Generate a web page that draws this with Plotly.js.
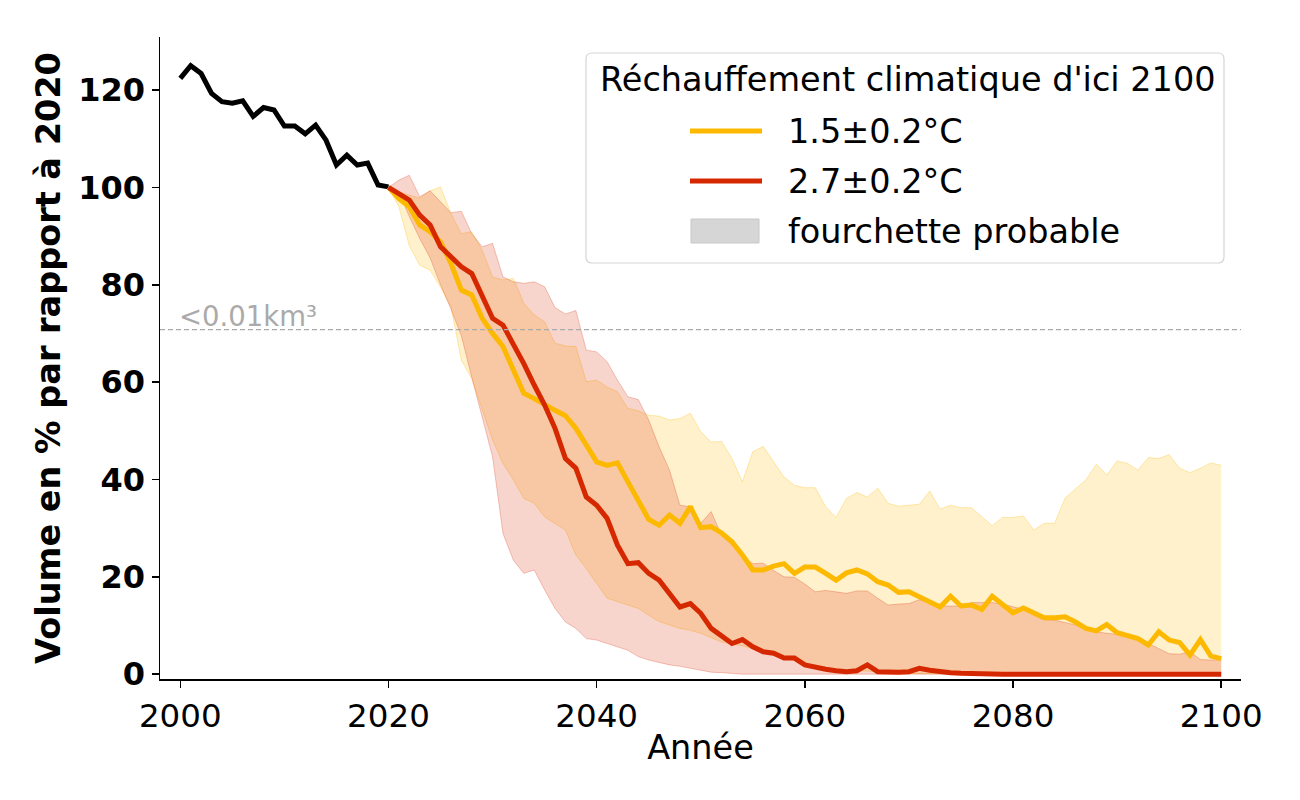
<!DOCTYPE html>
<html>
<head>
<meta charset="utf-8">
<script src="https://cdn.plot.ly/plotly-3.0.1.min.js"></script>
<style>html,body{margin:0;padding:0;background:#fff;}#chart{width:1300px;height:800px;}</style>
</head>
<body>
<div id="chart"></div>
<script>
// ---------- DATA ----------
const histYears = [2000,2001,2002,2003,2004,2005,2006,2007,2008,2009,2010,2011,2012,2013,2014,2015,2016,2017,2018,2019,2020];
const histVol = [122.4,125.0,123.4,119.3,117.6,117.3,117.8,114.6,116.4,115.9,112.6,112.6,111.0,112.8,109.7,104.6,106.6,104.6,105.0,100.5,100.1];

const projYears = [2020,2021,2022,2023,2024,2025,2026,2027,2028,2029,
  2030,2031,2032,2033,2034,2035,2036,2037,2038,2039,
  2040,2041,2042,2043,2044,2045,2046,2047,2048,2049,
  2050,2051,2052,2053,2054,2055,2056,2057,2058,2059,
  2060,2061,2062,2063,2064,2065,2066,2067,2068,2069,
  2070,2071,2072,2073,2074,2075,2076,2077,2078,2079,
  2080,2081,2082,2083,2084,2085,2086,2087,2088,2089,
  2090,2091,2092,2093,2094,2095,2096,2097,2098,2099,2100];

// 1.5±0.2°C
const yellowMed = [100,97.7,96.0,92.3,90.9,88.8,84.4,78.9,77.9,73.1,
  70.0,67.3,62.5,57.7,56.6,55.3,54.2,53.1,50.5,47.1,
  43.6,42.9,43.4,39.5,35.4,31.8,30.6,32.7,31.0,34.4,
  30.1,30.3,29.0,27.2,24.5,21.4,21.4,22.2,22.7,20.7,
  22.0,22.0,20.7,19.3,20.8,21.4,20.6,19.0,18.3,16.8,
  16.9,15.9,14.7,13.8,16.0,14.0,14.2,13.3,16.0,14.2,
  12.6,13.6,12.6,11.6,11.6,11.8,10.7,9.4,8.9,10.2,
  8.5,8.0,7.3,6.0,8.7,7.0,6.5,3.9,7.1,3.7,3.2];
const yellowLo = [100,96,88,84,83,79.5,75.5,64.5,60.7,54.2,
  48.1,43.3,39.9,36.1,35.1,32.3,31.0,29.6,24.5,21.7,
  18.6,15.6,14.9,14.2,13.5,12.1,10.8,10.1,9.4,9.0,
  8.4,7.5,6.6,6.2,5.8,5.2,4.5,4.0,3.2,2.8,
  2.0,1.5,1.2,1.0,0.8,0.7,0.6,0.4,0.3,0.3,
  0.2,0.1,0.1,0.1,0,0,0,0,0,0,
  0,0,0,0,0,0,0,0,0,0,
  0,0,0,0,0,0,0,0,0,0,0];
const yellowHi = [100,99.1,98.4,97.8,99.3,100.1,94.6,90.5,90.9,87.1,
  81.6,81.0,81.3,76.2,73.8,72.4,68.0,67.4,67.3,60.1,
  60.4,59.0,58.0,54.6,54.1,53.2,53.0,52.2,52.5,53.6,
  49.8,47.7,47.8,44.3,39.5,45.7,46.8,43.6,40.5,38.8,
  38.3,38.3,34.4,32.2,36.1,37.3,36.4,38.2,35.1,34.5,
  34.7,34.9,37.6,33.9,34.7,34.2,34.2,32.3,30.5,32.2,
  32.2,32.5,29.6,31.0,31.0,36.2,38.1,39.9,43.1,40.9,
  43.8,43.3,41.9,44.5,44.3,45.1,42.3,41.4,42.3,43.4,42.9];

// 2.7±0.2°C
const redMed = [100,98.8,97.4,94.3,92.3,87.8,85.6,83.7,82.3,77.9,
  73.1,71.7,67.9,63.8,59.4,55.3,50.5,44.3,42.3,36.4,
  34.7,32.0,26.5,22.7,22.9,20.7,19.3,16.6,13.8,14.5,
  12.5,9.4,7.9,6.3,7.1,5.6,4.6,4.3,3.3,3.3,
  1.9,1.4,1.0,0.7,0.5,0.7,1.9,0.5,0.4,0.4,
  0.5,1.2,0.8,0.5,0.3,0.2,0.1,0,0,0,
  0,0,0,0,0,0,0,0,0,0,
  0,0,0,0,0,0,0,0,0,0,0];
const redLo = [100,99,94,89.5,85.5,80,75,69.5,61,52.9,
  44.6,28.9,23.4,20.7,21.4,17.3,13.5,10.7,9.4,7.3,
  7.0,6.3,5.6,4.9,3.6,2.9,2.4,1.9,1.6,1.2,
  0.8,0.4,0.3,0.1,0,0,0,0,0,0,
  0,0,0,0,0,0,0,0,0,0,
  0,0,0,0,0,0,0,0,0,0,
  0,0,0,0,0,0,0,0,0,0,
  0,0,0,0,0,0,0,0,0,0,0];
const redHi = [100,101.5,102.5,98.1,99.3,97.0,94.8,95.1,90.5,87.8,
  88.5,81.6,80.6,80.3,80.6,79.6,75.3,74.0,74.7,66.6,
  66.2,64.2,60.4,57.0,56.4,52.2,46.7,41.9,34.7,34.4,
  31.0,33.4,28.5,26.5,24.2,22.7,22.8,21.3,20.0,19.9,
  18.5,16.9,17.2,16.9,16.6,17.1,17.1,15.6,14.2,14.4,
  14.5,15.3,14.7,14.0,14.0,14.0,14.7,14.7,14.7,14.4,
  13.8,13.3,12.1,11.2,11.1,10.6,10.1,9.2,8.7,8.4,
  8.2,7.8,7.5,6.3,5.3,4.2,4.1,4.6,3.0,2.9,3.0];

const thresholdValue = 70.8;
const thresholdLabel = '<0.01km³';
const xTicks = [2000,2020,2040,2060,2080,2100];
const yTicks = [0,20,40,60,80,100,120];
const legendTitle = 'Réchauffement climatique d\'ici 2100';
const seriesNames = ['1.5±0.2°C','2.7±0.2°C','fourchette probable'];

// ---------- STYLE ----------
const FONT = 'DejaVu Sans';
const YEL = '#FDB900';
const RED = '#D62800';
const PATCH = '#d6d6d6';

// plot area in pixels (for the hand-drawn legend box)
const PL = 160, PR = 1241, PT = 37, PB = 679;
const px = v => (v - PL) / (PR - PL);
const py = v => (PB - v) / (PB - PT);
function roundRect(x0, y0, x1, y1, r) {
  const rx = r / (PR - PL), ry = r / (PB - PT);
  const a = px(x0), b = px(x1), t = py(y0), u = py(y1);
  return `M${a + rx},${t} L${b - rx},${t} Q${b},${t} ${b},${t - ry} L${b},${u + ry} Q${b},${u} ${b - rx},${u} ` +
         `L${a + rx},${u} Q${a},${u} ${a},${u + ry} L${a},${t - ry} Q${a},${t} ${a + rx},${t} Z`;
}

const traces = [
  {x: projYears, y: yellowLo, mode: 'lines', line: {color: 'rgba(253,185,0,0.3)', width: 1}, hoverinfo: 'skip'},
  {x: projYears, y: yellowHi, mode: 'lines', fill: 'tonexty', fillcolor: 'rgba(255,186,0,0.2)', line: {color: 'rgba(253,185,0,0.3)', width: 1}, hoverinfo: 'skip'},
  {x: projYears, y: redLo, mode: 'lines', line: {color: 'rgba(214,40,0,0.25)', width: 1}, hoverinfo: 'skip'},
  {x: projYears, y: redHi, mode: 'lines', fill: 'tonexty', fillcolor: 'rgba(214,40,0,0.2)', line: {color: 'rgba(214,40,0,0.25)', width: 1}, hoverinfo: 'skip'},
  {x: histYears, y: histVol, mode: 'lines', line: {color: '#000000', width: 5}},
  {x: projYears, y: yellowMed, mode: 'lines', name: seriesNames[0], line: {color: YEL, width: 5}},
  {x: projYears, y: redMed, mode: 'lines', name: seriesNames[1], line: {color: RED, width: 5}}
];

const T = 33.5;
const legendItems = [
  {y: 131, kind: 'line', color: YEL, label: seriesNames[0]},
  {y: 181, kind: 'line', color: RED, label: seriesNames[1]},
  {y: 231, kind: 'patch', color: PATCH, label: seriesNames[2]}
];

const shapes = [
  {type: 'line', xref: 'paper', x0: 0, x1: 1, yref: 'y', y0: thresholdValue, y1: thresholdValue,
   line: {color: '#aaaaaa', width: 1.2, dash: '5px,3px'}, layer: 'above'},
  {type: 'path', xref: 'paper', yref: 'paper', path: roundRect(586, 53, 1224, 263, 6),
   fillcolor: 'rgba(255,255,255,0.8)', line: {color: '#d5d5d5', width: 1.2}, layer: 'above'}
];
const annotations = [
  {x: 2000, y: thresholdValue, xref: 'x', yref: 'y', text: thresholdLabel, showarrow: false,
   xanchor: 'left', yanchor: 'bottom', yshift: -4, xshift: -3, font: {family: FONT, size: 27.5, color: '#aaaaaa'}},
  {x: px(598), y: py(80), xref: 'paper', yref: 'paper', text: legendTitle, showarrow: false,
   xanchor: 'left', yanchor: 'middle', font: {family: FONT, size: T, color: '#000'}}
];
legendItems.forEach(it => {
  if (it.kind === 'line') {
    shapes.push({type: 'line', xref: 'paper', yref: 'paper', x0: px(690), x1: px(762), y0: py(it.y), y1: py(it.y),
      line: {color: it.color, width: 5}, layer: 'above'});
  } else {
    shapes.push({type: 'rect', xref: 'paper', yref: 'paper', x0: px(691), x1: px(759), y0: py(it.y + 12), y1: py(it.y - 12),
      fillcolor: it.color, line: {color: '#c8c8c8', width: 1}, layer: 'above'});
  }
  annotations.push({x: px(786), y: py(it.y), xref: 'paper', yref: 'paper', text: it.label, showarrow: false,
    xanchor: 'left', yanchor: 'middle', font: {family: FONT, size: T, color: '#000'}});
});

const layout = {
  width: 1300, height: 800,
  margin: {l: 160, r: 59, t: 37, b: 121, pad: 0},
  paper_bgcolor: '#ffffff', plot_bgcolor: '#ffffff',
  font: {family: FONT, color: '#000000', size: 32},
  showlegend: false,
  xaxis: {
    range: [1998.05, 2101.9], tickvals: xTicks, ticks: 'outside', ticklen: 7, tickwidth: 1.5, tickcolor: '#000',
    showline: true, linecolor: '#000', linewidth: 1.5, showgrid: false, zeroline: false,
    tickfont: {family: FONT, size: 32.5, color: '#000'},
    title: {text: 'Année', font: {family: FONT, size: T, color: '#000'}, standoff: 2}
  },
  yaxis: {
    range: [-1.0, 130.9], tickvals: yTicks, ticks: 'outside', ticklen: 7, tickwidth: 1.5, tickcolor: '#000',
    showline: true, linecolor: '#000', linewidth: 1.5, showgrid: false, zeroline: false,
    tickfont: {family: FONT, size: 32, color: '#000', weight: 'bold'},
    title: {text: 'Volume en % par rapport à 2020', font: {family: FONT, size: T, color: '#000', weight: 'bold'}, standoff: 7}
  },
  shapes: shapes,
  annotations: annotations
};

Plotly.newPlot('chart', traces, layout, {staticPlot: true, displayModeBar: false});
</script>
</body>
</html>
